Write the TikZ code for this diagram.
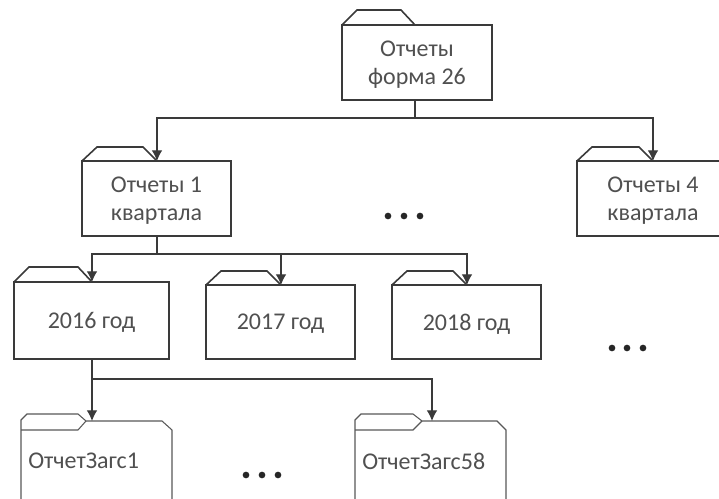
\documentclass[tikz,border=0pt]{standalone}
\usepackage{fontspec}
\setmainfont{Carlito}
\usetikzlibrary{arrows.meta}
\definecolor{ln}{HTML}{3A3A3A}
\definecolor{tx}{HTML}{505050}
\tikzset{
  x=0.75pt,y=-0.75pt,
  outline/.style={draw=ln,line width=1.2pt,line join=miter},
  thinout/.style={draw=ln!85,line width=0.8pt},
  boxnode/.style={outline,rectangle,inner sep=0pt},
  boxtext/.style={inner sep=0pt,align=center,text=tx,font=\fontsize{18}{21}\selectfont},
  pkgtext/.style={inner sep=0pt,text=tx,font=\fontsize{18}{21}\selectfont},
  conn/.style={draw=ln,line width=0.9pt},
  arr/.style={conn,-{Latex[length=8pt,width=8pt]}},
  dotmark/.style={circle,fill=black!85,inner sep=0pt,minimum size=5pt}
}
% name, left, top, right, bottom, tab top, tab right, text
\newcommand{\folderbox}[8]{%
  \pgfmathsetlengthmacro{\fw}{(#4-#2)*0.75pt}%
  \pgfmathsetlengthmacro{\fh}{(#5-#3)*0.75pt}%
  \node[boxnode,minimum width=\fw,minimum height=\fh] (#1) at ({(#2+#4)/2},{(#3+#5)/2}) {};
  \node[boxtext] (#1t) at ([yshift=-1.5pt]#1.center) {#8};
  \draw[outline] (#2,#3) -- ({#2+15},#6) -- ({#7-14},#6) -- (#7,#3);
}
\begin{document}
\begin{tikzpicture}
\useasboundingbox (0,0) rectangle (719,499);
\clip (0,0) rectangle (719,499);
\folderbox{root}{342}{25}{492}{100}{10}{415}{Отчеты\\форма 26}
\folderbox{qa}{82}{161}{231}{236}{147}{157}{Отчеты 1\\квартала}
\folderbox{qd}{577}{161}{729}{236}{147}{653}{Отчеты 4\\квартала}
\folderbox{ya}{14}{282}{169}{359}{267}{92}{2016 год}
\folderbox{yb}{206}{285}{355}{359}{271}{281}{2017 год}
\folderbox{yc}{392}{285}{541}{359}{271}{467}{2018 год}
% packages
\coordinate (pa) at (92,421);
\coordinate (pb) at (432,421);
\coordinate (busa) at (92,379);
\draw[thinout] (21,499) -- (21,420) -- (27,414) -- (78,414) -- (86,421) -- (162,421) -- (172,430) -- (172,499);
\draw[thinout] (21,430) -- (78,430) -- (86,421);
\draw[thinout] (355,499) -- (355,420) -- (361,414) -- (413,414) -- (422,421) -- (497,421) -- (506,430) -- (506,499);
\draw[thinout] (355,430) -- (413,430) -- (422,421);
\node[pkgtext,anchor=west] (pat) at (28,461) {ОтчетЗагс1};
\node[pkgtext,anchor=west] (pbt) at (362,461) {ОтчетЗагс58};
% connectors
\coordinate (busroot) at (415,118);
\draw[conn] (root.south -| busroot) -- (busroot);
\draw[arr] (busroot) -| (157,161);
\draw[arr] (busroot) -| (653,161);
\coordinate (busq) at (157,254);
\draw[conn] (qa.south -| busq) -- (busq);
\draw[arr] (busq) -| (92,282);
\draw[arr] (busq) -| (281,285);
\draw[arr] (busq) -| (467,285);
\draw[arr] (ya.south -| busa) -- (pa);
\draw[arr] (busa) -| (pb);
% dots
\foreach \i/\a/\b in {1/388/216,2/404/216,3/420/216,4/612/348,5/627/348,6/643/348,7/246/475,8/262/475,9/278/475}
  \node[dotmark] (d\i) at (\a,\b) {};
\end{tikzpicture}
\end{document}
